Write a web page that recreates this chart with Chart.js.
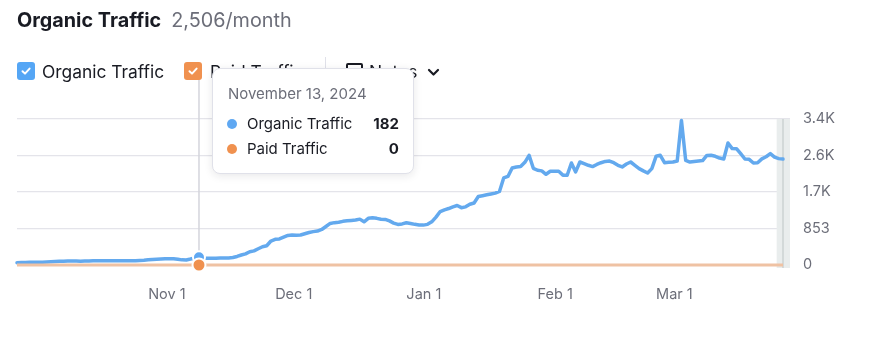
<!DOCTYPE html>
<html>
<head>
<meta charset="utf-8">
<script src="https://cdn.jsdelivr.net/npm/chart.js@4/dist/chart.umd.min.js"></script>
<style>
  html, body { margin:0; padding:0; background:#fff; width:885px; height:358px; overflow:hidden; font-family: Inter, "Noto Sans", sans-serif; }
  #wrap { position:absolute; left:0; top:0; width:885px; height:358px; }
  canvas { position:absolute; left:0; top:0; }
  .title { position:absolute; left:17px; top:7px; font-size:19.8px; line-height:26px; white-space:nowrap; }
  .title b { color:#191b23; font-weight:700; }
  .title span { color:#6c6e79; margin-left:10px; font-weight:400; }
  .legend { position:absolute; left:17px; top:60px; height:24px; font-size:17.4px; color:#191b23; }
  .item { position:absolute; top:0; height:24px; line-height:24px; white-space:nowrap; }
  .cb { position:absolute; top:2px; width:18px; height:18px; border-radius:3px; }
  .cb svg { position:absolute; left:3px; top:3px; }
  .divider { position:absolute; left:308px; top:-3px; width:1px; height:28px; background:#e0e1e9; }
  .notesbox { position:absolute; top:3px; width:13px; height:13px; border:2px solid #191b23; border-radius:2px; }
  #tip { position:absolute; background:#fff; border:1px solid #e0e1e9; border-radius:8px; box-shadow:0 2px 8px rgba(25,27,35,0.10); box-sizing:border-box; width:202px; height:106px; padding:15px 14px 0 14px; z-index:5; display:none; }
  #tip .hd { font-size:15px; color:#6c6e79; line-height:20px; margin-bottom:10px; padding-left:1px; }
  #tip .row { position:relative; height:25px; line-height:20px; font-size:15px; color:#191b23; }
  #tip .dot { position:absolute; left:0; top:5px; width:10px; height:10px; border-radius:50%; }
  #tip .lb { position:absolute; left:20px; top:0; }
  #tip .vl { position:absolute; right:0; top:0; font-weight:700; }
</style>
</head>
<body>
<div id="wrap">
  <canvas id="c" width="885" height="358"></canvas>
  <div class="title"><b>Organic Traffic</b><span>2,506/month</span></div>
  <div class="legend">
    <div class="item" style="left:0">
      <div class="cb" style="left:0;background:#55a6f5"><svg width="12" height="12" viewBox="0 0 12 12"><path d="M2.5 6.2 L5 8.6 L9.6 3.6" stroke="#fff" stroke-width="2" fill="none" stroke-linecap="round" stroke-linejoin="round"/></svg></div>
      <span style="position:absolute;left:25px">Organic Traffic</span>
    </div>
    <div class="item" style="left:167px">
      <div class="cb" style="left:0;background:#f0914f"><svg width="12" height="12" viewBox="0 0 12 12"><path d="M2.5 6.2 L5 8.6 L9.6 3.6" stroke="#fff" stroke-width="2" fill="none" stroke-linecap="round" stroke-linejoin="round"/></svg></div>
      <span style="position:absolute;left:26px">Paid Traffic</span>
    </div>
    <div class="divider"></div>
    <div class="item" style="left:329px">
      <div class="notesbox" style="left:0"></div>
      <span style="position:absolute;left:23px">Notes</span>
      <svg style="position:absolute;left:81px;top:8px" width="13" height="9" viewBox="0 0 13 9"><path d="M2 2 L6.5 6.5 L11 2" stroke="#191b23" stroke-width="2.2" fill="none" stroke-linecap="round" stroke-linejoin="round"/></svg>
    </div>
  </div>
  <div id="tip"></div>
</div>
<script>
// ---- data ----
const startDate = '2024-10-01';
const dayCount = 182;
const organicTraffic = [
  55,58,60,62,63,65,67,70,75,80,
  85,88,92,93,92,90,94,96,97,98,
  98,99,100,99,100,101,102,100,101,105,
  110,120,130,135,140,145,148,147,135,120,
  118,140,165,182,160,155,158,160,162,165,
  165,175,200,233,260,310,330,380,427,450,
  560,600,610,650,690,700,695,700,730,760,
  780,792,830,900,971,990,1000,1020,1032,1040,
  1050,1072,1009,1090,1102,1090,1070,1065,1030,980,
  948,960,986,970,950,935,932,950,1009,1120,
  1250,1290,1320,1360,1390,1340,1359,1420,1450,1600,
  1620,1640,1660,1680,1720,2034,2070,2268,2290,2300,
  2400,2563,2260,2214,2200,2120,2190,2190,2190,2100,
  2097,2384,2175,2407,2370,2330,2300,2350,2390,2420,
  2430,2390,2330,2291,2360,2407,2330,2253,2200,2151,
  2253,2540,2563,2390,2400,2407,2430,3379,2446,2407,
  2420,2430,2440,2560,2563,2540,2500,2477,2850,2720,
  2718,2600,2477,2470,2384,2390,2480,2530,2602,2520,
  2486,2477
];
const paidTraffic = new Array(dayCount).fill(0);
const xTickDates = ['2024-11-01','2024-12-01','2025-01-01','2025-02-01','2025-03-01'];
const xTickLabels = ['Nov 1','Dec 1','Jan 1','Feb 1','Mar 1'];
const yTickValues = [0, 853, 1706, 2559, 3412];
const yTickLabels = ['0','853','1.7K','2.6K','3.4K'];
const hoverDate = '2024-11-13';

// build category dates
const dates = [];
{
  const d0 = new Date(startDate + 'T00:00:00Z');
  for (let i = 0; i < dayCount; i++) {
    const d = new Date(d0.getTime() + i * 86400000);
    dates.push(d.toISOString().slice(0, 10));
  }
}
const hoverIndex = dates.indexOf(hoverDate);
const tickIdx = xTickDates.map(d => dates.indexOf(d));

const orgPts = organicTraffic.map((v, i) => ({x: i, y: v}));
const paidPts = paidTraffic.map((v, i) => ({x: i, y: v}));

const bandPlugin = {
  id: 'band',
  beforeDatasetsDraw(chart) {
    const {ctx, chartArea, scales} = chart;
    const x = scales.x;
    const last = dates.length - 1;
    const x0 = x.getPixelForValue(last - 1.5);
    const xl = x.getPixelForValue(last);
    ctx.save();
    ctx.fillStyle = '#e9eded';
    ctx.fillRect(x0, chartArea.top, chartArea.right - x0, chartArea.bottom - chartArea.top + 3);
    ctx.fillStyle = '#d3d9d9';
    ctx.fillRect(xl - 1, chartArea.top, 2, chartArea.bottom - chartArea.top + 3);
    // hover line
    const act = chart.getActiveElements();
    if (act.length) {
      const px = x.getPixelForValue(act[0].index);
      ctx.strokeStyle = '#d4d5dc';
      ctx.lineWidth = 1.5;
      ctx.beginPath();
      ctx.moveTo(px, chartArea.top - 50);
      ctx.lineTo(px, chartArea.bottom);
      ctx.stroke();
    }
    ctx.restore();
  }
};

function externalTip(context) {
  const {chart, tooltip} = context;
  const el = document.getElementById('tip');
  if (!tooltip || tooltip.opacity === 0 || !tooltip.dataPoints || !tooltip.dataPoints.length) { el.style.display = 'none'; return; }
  const dp = tooltip.dataPoints.slice().sort((a, b) => a.datasetIndex - b.datasetIndex);
  const d = new Date(dates[dp[0].dataIndex] + 'T00:00:00Z');
  const title = d.toLocaleDateString('en-US', {month:'long', day:'numeric', year:'numeric', timeZone:'UTC'});
  let html = '<div class="hd">' + title + '</div>';
  dp.forEach(p => {
    const col = p.dataset.pointHoverBackgroundColor;
    html += '<div class="row"><span class="dot" style="background:' + col + '"></span><span class="lb">' + p.dataset.label + '</span><span class="vl">' + p.parsed.y.toLocaleString('en-US') + '</span></div>';
  });
  el.innerHTML = html;
  const px = chart.scales.x.getPixelForValue(dp[0].dataIndex);
  el.style.left = (px + 13) + 'px';
  el.style.top = '68px';
  el.style.display = 'block';
}

const chart = new Chart(document.getElementById('c'), {
  type: 'line',
  data: {
    datasets: [
      {
        label: 'Organic Traffic',
        data: orgPts,
        order: 1,
        borderColor: '#63a9ee',
        borderWidth: 3.5,
        pointRadius: 0,
        pointHoverRadius: 6,
        pointHoverBackgroundColor: '#5fa8f2',
        pointHoverBorderColor: '#ffffff',
        pointHoverBorderWidth: 2,
        tension: 0,
        fill: false,
        clip: 10,
        borderJoinStyle: 'round',
        borderCapStyle: 'round'
      },
      {
        label: 'Paid Traffic',
        data: paidPts,
        order: 0,
        borderColor: '#efc2a3',
        borderWidth: 3,
        pointRadius: 0,
        pointHoverRadius: 6.5,
        pointHoverBackgroundColor: '#f0914f',
        pointHoverBorderColor: '#ffffff',
        pointHoverBorderWidth: 2,
        tension: 0,
        fill: false,
        clip: 10
      }
    ]
  },
  options: {
    responsive: false,
    animation: false,
    events: [],
    layout: { padding: { left: 17, top: 119, right: 0, bottom: 0 } },
    interaction: { mode: 'index', intersect: false },
    plugins: {
      legend: { display: false },
      title: { display: false },
      tooltip: { enabled: false, external: externalTip, mode: 'index', intersect: false }
    },
    scales: {
      x: {
        type: 'linear',
        min: 0,
        max: dates.length - 1 + 1.65,
        grid: { display: false, drawTicks: false },
        border: { display: false },
        afterBuildTicks(scale) { scale.ticks = tickIdx.map(v => ({value: v})); },
        afterFit(scale) { scale.height = 93; },
        ticks: {
          autoSkip: false,
          maxRotation: 0,
          align: 'start',
          padding: 21,
          color: '#6c6e79',
          font: { family: 'Inter', size: 14.5 },
          callback(v) { const k = tickIdx.indexOf(v); return k >= 0 ? xTickLabels[k] : ''; }
        }
      },
      y: {
        position: 'right',
        min: 0,
        max: yTickValues[yTickValues.length - 1],
        grid: { color: '#e4e4ea', lineWidth: 1.3, drawTicks: false },
        border: { display: false },
        afterBuildTicks(scale) { scale.ticks = yTickValues.map(v => ({value: v})); },
        afterFit(scale) { scale.width = 95; },
        ticks: {
          padding: 13,
          color: '#6c6e79',
          font: { family: 'Inter', size: 14.5 },
          callback(v) { const k = yTickValues.indexOf(v); return k >= 0 ? yTickLabels[k] : ''; }
        }
      }
    }
  },
  plugins: [bandPlugin]
});

const act = [{datasetIndex: 0, index: hoverIndex}, {datasetIndex: 1, index: hoverIndex}];
chart.setActiveElements(act);
chart.tooltip.setActiveElements(act, {x: chart.scales.x.getPixelForValue(hoverIndex), y: chart.chartArea.bottom});
chart.update('none');
</script>
</body>
</html>
